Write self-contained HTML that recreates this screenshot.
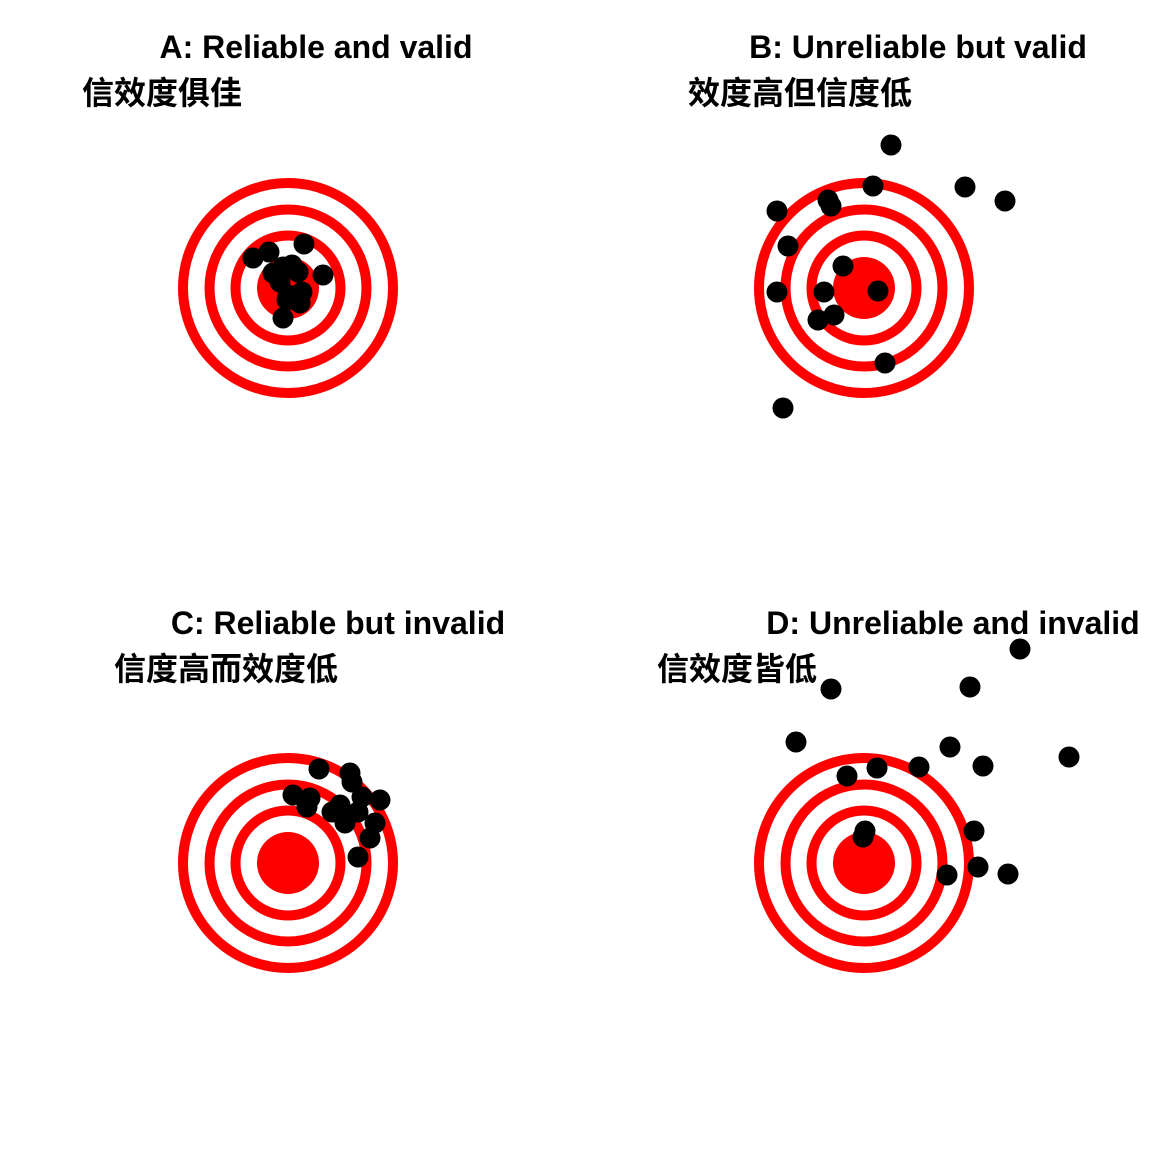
<!DOCTYPE html>
<html><head><meta charset="utf-8"><style>
html,body{margin:0;padding:0;background:#fff;}
svg text{font-family:"Liberation Sans","Noto Sans CJK SC",sans-serif;font-weight:bold;fill:#000;}
</style></head><body>
<svg id="chart" width="1152" height="1152" viewBox="0 0 1152 1152" xmlns="http://www.w3.org/2000/svg">
<text x="316" y="58" font-size="32" text-anchor="middle">A: Reliable and valid</text>
<text x="82" y="104" font-size="32">信效度俱佳</text>
<text x="918" y="58" font-size="32" text-anchor="middle">B: Unreliable but valid</text>
<text x="688" y="104" font-size="32">效度高但信度低</text>
<text x="338" y="634" font-size="32" text-anchor="middle">C: Reliable but invalid</text>
<text x="114" y="680" font-size="32">信度高而效度低</text>
<text x="953" y="634" font-size="32" text-anchor="middle">D: Unreliable and invalid</text>
<text x="657" y="680" font-size="32">信效度皆低</text>
</svg>
<script>
const ringRadii = [10.5, 7.85, 5.25];
const bullRadius = 3.1;
const panelNames = ['a','b','c','d'];
const panelCenters = [[288,288],[864,288],[288,863],[864,863]];
const aX = [-3.5,-1.9,1.6,3.5,-0.5,0.4,1.0,-1.5,-0.8,0,1.4,1.2,-0.5,-0.1];
const aY = [3.0,3.6,4.4,1.3,2.1,2.3,1.6,1.5,0.6,-0.7,-0.4,-1.5,-3.0,-1.2];
const bX = [2.7,0.9,10.1,14.1,-3.6,-3.3,-8.7,-7.6,-2.1,-8.7,-4.0,1.4,-3.0,-4.6,2.1,-8.1];
const bY = [14.3,10.2,10.1,8.7,8.8,8.2,7.7,4.2,2.2,-0.4,-0.4,-0.3,-2.7,-3.2,-7.5,-12.0];
const cX = [3.1,6.2,6.4,0.5,2.2,1.9,9.2,7.4,5.2,4.4,5.7,7.0,8.7,8.2,7.0];
const cY = [9.4,9.0,8.1,6.8,6.5,5.6,6.3,6.6,5.8,5.1,4.0,5.1,4.0,2.5,0.6];
const dX = [15.6,-3.3,10.6,-6.8,8.6,20.5,11.9,5.5,1.3,-1.7,11.0,0.1,-0.1,11.4,8.3,14.4];
const dY = [21.4,17.4,17.6,12.1,11.6,10.6,9.7,9.6,9.5,8.7,3.2,3.2,2.6,-0.4,-1.2,-1.1];
const seriesX = [aX,bX,cX,dX];
const seriesY = [aY,bY,cY,dY];
const NS = 'http://www.w3.org/2000/svg';
const svg = document.getElementById('chart');
const unit = 10;
function sx(c, v){ return c[0] + v*unit; }
function sy(c, v){ return c[1] - v*unit; }
panelCenters.forEach((c, p) => {
  const g = document.createElementNS(NS,'g');
  
  
  ringRadii.forEach((r, i) => {
    const ring = document.createElementNS(NS,'circle');
    
    
    ring.setAttribute('cx', c[0]); ring.setAttribute('cy', c[1]);
    ring.setAttribute('r', r*unit);
    ring.setAttribute('fill','none'); ring.setAttribute('stroke','#ff0000'); ring.setAttribute('stroke-width','10');
    g.appendChild(ring);
  });
  const bull = document.createElementNS(NS,'circle');
  
  
  bull.setAttribute('cx', c[0]); bull.setAttribute('cy', c[1]);
  bull.setAttribute('r', bullRadius*unit); bull.setAttribute('fill','#ff0000');
  g.appendChild(bull);
  const xs = seriesX[p], ys = seriesY[p];
  for (let i = 0; i < xs.length; i++) {
    const pt = document.createElementNS(NS,'circle');
    
    
    pt.setAttribute('cx', sx(c, xs[i])); pt.setAttribute('cy', sy(c, ys[i]));
    pt.setAttribute('r', 10.5); pt.setAttribute('fill','#000');
    g.appendChild(pt);
  }
  svg.appendChild(g);
});
</script>
</body></html>
